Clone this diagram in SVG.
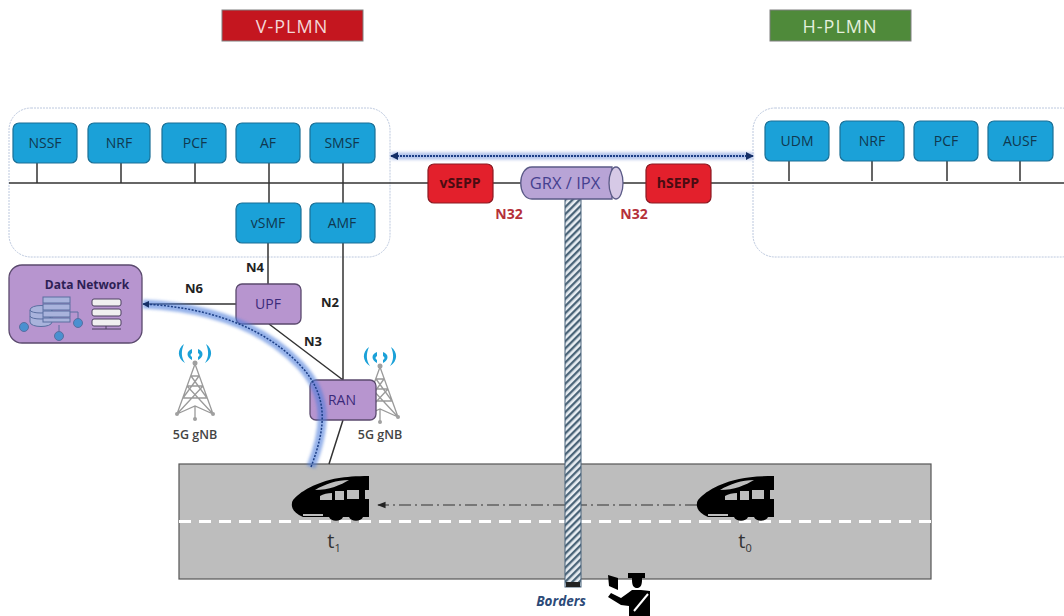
<svg xmlns="http://www.w3.org/2000/svg" width="1064" height="616" viewBox="0 0 1064 616">
<defs>
<style>
text{font-family:"Open Sans","Liberation Sans",sans-serif;text-anchor:middle}
.b{fill:#1ba1d8;stroke:#1a6f96;stroke-width:1.2}
.bt{font-size:14px;fill:#10384f}
.p{fill:#b795cf;stroke:#5b4a6e;stroke-width:1.3}
.pt{font-size:14px;fill:#3b2a7a}
.r{fill:#e3202c;stroke:#8a1a22;stroke-width:1.2}
.rt{font-size:14px;font-weight:700;fill:#4a0c12}
.l{font-size:13px;font-weight:700;fill:#222}
.n32{font-size:14px;font-weight:700;fill:#b5303a}
.c{stroke:#333;stroke-width:1.5;fill:none}
.dash{fill:none;stroke:#bcc8de;stroke-width:1;stroke-dasharray:2 1}
.k{fill:#000}
.gl{fill:none;stroke:#9a9a9a;stroke-width:1.300}
.wave{fill:#1ba1d8}
.gt{font-size:12.500px;font-weight:600;fill:#444}
</style>
<filter id="glow" filterUnits="userSpaceOnUse" x="120" y="130" width="660" height="350"><feGaussianBlur stdDeviation="1.800"/></filter>
<pattern id="hatch" width="5" height="5" patternUnits="userSpaceOnUse" patternTransform="rotate(45)">
<rect width="5" height="5" fill="#e8edf2"/><rect width="2.300" height="5" fill="#4a6478"/>
</pattern>
<marker id="ah" viewBox="0 0 10 10" refX="9" refY="5" markerWidth="4.500" markerHeight="4.500" orient="auto-start-reverse"><path d="M0 0L10 5L0 10Z" fill="#152f66"/></marker>
<marker id="ag" viewBox="0 0 10 10" refX="9" refY="5" markerWidth="7" markerHeight="7" orient="auto"><path d="M0 1L10 5L0 9Z" fill="#222"/></marker>
<g id="tower">
<path class="gl" d="M0 -26L-18 24M0 -26L18 24M-12 8L12 8M-8 -4L8 -4M-4 -14L4 -14M-18 24L8 -4M18 24L-8 -4M-12 8L4 -14M12 8L-4 -14M-18 24L0 16L18 24M0 16V29"/>
<circle cx="-18" cy="24" r="2" fill="#a0a0a0"/><circle cx="18" cy="24" r="2" fill="#a0a0a0"/><circle cx="0" cy="29" r="2" fill="#a0a0a0"/><circle cx="0" cy="-27" r="2.500" fill="#a0a0a0"/>
<path class="wave" d="M-3 -30C-9 -33 -9 -39 -3 -41V-37C-5 -36 -5 -34 -3 -33Z"/>
<path class="wave" d="M3 -30C9 -33 9 -39 3 -41V-37C5 -36 5 -34 3 -33Z"/>
<path class="wave" d="M-10 -27C-18 -32 -18 -41 -11 -46C-14 -39 -14 -33 -10 -27Z"/>
<path class="wave" d="M10 -27C18 -32 18 -41 11 -46C14 -39 14 -33 10 -27Z"/>
</g>
<g id="train">
<path class="k" d="M1 22C1 17 14 8 24 4C38 -2 52 -5 78 -5V36H72C70 41 60 41 58 36H52C50 41 40 41 38 36H12C3 32 0 27 1 22Z"/>
<path fill="#bdbdbd" d="M24 9C34 3 46 -1 58 -1C50 4 38 9 24 9ZM29 15C32 13 37 12 41 12V19H29ZM44 10H53V19H44ZM56 9H68V18H56ZM70 18H78V9H74V18ZM12 33H32V35H12Z"/>
</g>
</defs>
<rect width="1064" height="616" fill="#fff"/>

<g id="title-v"><rect x="222" y="10" width="141" height="31" fill="#c4161f" stroke="#7f7f7f"/><text x="292" y="33" font-size="18" letter-spacing="1" fill="#f3d7d7">V-PLMN</text></g>
<g id="title-h"><rect x="770" y="10" width="141" height="31" fill="#4f8a3a" stroke="#7f7f7f"/><text x="840" y="33" font-size="18" letter-spacing="1" fill="#e4efdd">H-PLMN</text></g>

<g id="zones">
<rect class="dash" x="9" y="108" width="381" height="149" rx="22"/>
<rect class="dash" x="753" y="108" width="330" height="149" rx="22"/>
</g>

<g id="road">
<rect x="179" y="464" width="752" height="115" fill="#bdbdbd" stroke="#555" stroke-width="1.2"/>
<path d="M179 521.500H931" stroke="#fff" stroke-width="3" stroke-dasharray="12 8"/>
</g>

<g id="connectors">
<path class="c" d="M9 183H1064"/>
<path class="c" d="M37 163V183M121 163V183M195 163V183M269 163V203M343 163V203M789 161V181M872 161V181M947 161V181M1020 161V181"/>
<path class="c" d="M268 243V284M343 243V380M236 304H146M269 324L343 380M343 420L329 464"/>
<path d="M697 505H378" fill="none" stroke="#333" stroke-width="1.2" stroke-dasharray="12 4 2 4" marker-end="url(#ag)"/>
</g>

<g id="nssf"><rect class="b" x="13" y="123" width="64" height="40" rx="6"/><text class="bt" x="45" y="148">NSSF</text></g>
<g id="nrf-v"><rect class="b" x="88" y="123" width="62" height="40" rx="6"/><text class="bt" x="119" y="148">NRF</text></g>
<g id="pcf-v"><rect class="b" x="162" y="123" width="64" height="40" rx="6"/><text class="bt" x="195" y="148">PCF</text></g>
<g id="af"><rect class="b" x="236" y="123" width="64" height="40" rx="6"/><text class="bt" x="268" y="148">AF</text></g>
<g id="smsf"><rect class="b" x="310" y="123" width="65" height="40" rx="6"/><text class="bt" x="342" y="148">SMSF</text></g>
<g id="vsmf"><rect class="b" x="236" y="203" width="65" height="40" rx="6"/><text class="bt" x="268" y="228">vSMF</text></g>
<g id="amf"><rect class="b" x="310" y="203" width="65" height="40" rx="6"/><text class="bt" x="342" y="228">AMF</text></g>
<g id="udm"><rect class="b" x="765" y="121" width="64" height="40" rx="6"/><text class="bt" x="797" y="146">UDM</text></g>
<g id="nrf-h"><rect class="b" x="840" y="121" width="64" height="40" rx="6"/><text class="bt" x="872" y="146">NRF</text></g>
<g id="pcf-h"><rect class="b" x="914" y="121" width="64" height="40" rx="6"/><text class="bt" x="946" y="146">PCF</text></g>
<g id="ausf"><rect class="b" x="988" y="121" width="65" height="40" rx="6"/><text class="bt" x="1020" y="146">AUSF</text></g>

<g id="vsepp"><rect class="r" x="428" y="164" width="65" height="39" rx="6"/><text class="rt" x="460" y="188">vSEPP</text></g>
<g id="hsepp"><rect class="r" x="646" y="164" width="65" height="39" rx="6"/><text class="rt" x="678" y="188">hSEPP</text></g>

<g id="borders">
<rect x="565" y="198" width="16" height="389" fill="url(#hatch)" stroke="#48627a"/>
<rect x="566" y="582" width="14" height="5" fill="#222"/>
<text x="561" y="606" font-size="13.500" font-weight="700" font-style="italic" fill="#2c4a78">Borders</text>
</g>
<g id="grx">
<path d="M532 167H612V199H532C517 199 517 167 532 167Z" fill="#b8a4d6" stroke="#5a5a86" stroke-width="1.3"/>
<ellipse cx="616" cy="183" rx="7" ry="16" fill="#d6c9e6" stroke="#5a5a86" stroke-width="1.3"/>
<text x="565" y="189" font-size="16.500" fill="#45408f">GRX / IPX</text>
</g>

<g id="data-network">
<rect x="9" y="265" width="133" height="78" rx="13" fill="#b795cf" stroke="#5b4a6e" stroke-width="1.3"/>
<text x="87" y="289" font-size="12" font-weight="700" fill="#2d1f55">Data Network</text>
<g fill="#a9b3dc" stroke="#5a6ea0">
<path d="M30 310V322C30 328 52 328 52 322V310C52 304 30 304 30 310Z"/><path d="M30 316C30 320 52 320 52 316M30 310C30 314 52 314 52 310" fill="none"/>
<rect x="43" y="297" width="27" height="6"/><rect x="43" y="304" width="27" height="6"/><rect x="43" y="311" width="27" height="6"/><rect x="43" y="318" width="27" height="4"/>
<path d="M70 312H78V319M59 325V331" fill="none"/>
<circle cx="24" cy="327" r="4.500" fill="#4a90d0"/><circle cx="59" cy="336" r="4.500" fill="#4a90d0"/><circle cx="78" cy="323" r="4.500" fill="#4a90d0"/>
</g>
<g fill="#f0f0f0" stroke="#4c4060"><rect x="92" y="299" width="29" height="7" rx="2"/><rect x="92" y="309" width="29" height="7" rx="2"/><rect x="92" y="319" width="29" height="7" rx="2"/><path d="M106 326V329M92 329H121" fill="none"/></g>
</g>

<g id="upf"><rect class="p" x="236" y="284" width="65" height="40" rx="6"/><text class="pt" x="268" y="309">UPF</text></g>
<g id="gnb-1"><use href="#tower" x="195" y="390"/><text class="gt" x="195" y="439">5G gNB</text></g>
<g id="gnb-2"><use href="#tower" x="380" y="393"/><text class="gt" x="380" y="439">5G gNB</text></g>
<g id="ran"><rect class="p" x="310" y="380" width="66" height="40" rx="6"/><text class="pt" x="342" y="405">RAN</text></g>

<g id="flows">
<path d="M391 156H753" fill="none" stroke="#6f8fd8" stroke-width="7" opacity=".55" filter="url(#glow)"/>
<path d="M391 156H753" fill="none" stroke="#1d3f86" stroke-width="1.800" stroke-dasharray="2 1" marker-start="url(#ah)" marker-end="url(#ah)"/>
<path d="M311 467C327 425 328 395 300 365C262 325 205 307 143 304" fill="none" stroke="#4f7fdc" stroke-width="9" opacity=".6" filter="url(#glow)"/>
<path d="M311 467C327 425 328 395 300 365C262 325 205 307 143 304" fill="none" stroke="#1d3f86" stroke-width="1.500" stroke-dasharray="2 1.500" marker-end="url(#ah)"/>
</g>

<g id="labels">
<text class="l" x="255" y="272">N4</text>
<text class="l" x="194" y="293">N6</text>
<text class="l" x="330" y="307">N2</text>
<text class="l" x="313" y="346">N3</text>
<text class="n32" x="509" y="219">N32</text>
<text class="n32" x="634" y="219">N32</text>
</g>

<g id="train-1"><use href="#train" x="291" y="481"/><text x="334" y="548" font-size="20" fill="#333">t<tspan font-size="11" dy="4">1</tspan></text></g>
<g id="train-0"><use href="#train" x="696" y="481"/><text x="745" y="548" font-size="20" fill="#333">t<tspan font-size="11" dy="4">0</tspan></text></g>

<g id="officer">
<path class="k" d="M628 573H645V578H642V580C642 586 640 588 637 588C634 588 632 586 632 580V578H628ZM632 590H641L650 591V616H629V606L621 605L608 597L611 593L621 598L628 593ZM608 575L618 578V590L609 586Z"/>
<path d="M634 611L648 594" stroke="#fff" stroke-width="2"/>
</g>
</svg>
